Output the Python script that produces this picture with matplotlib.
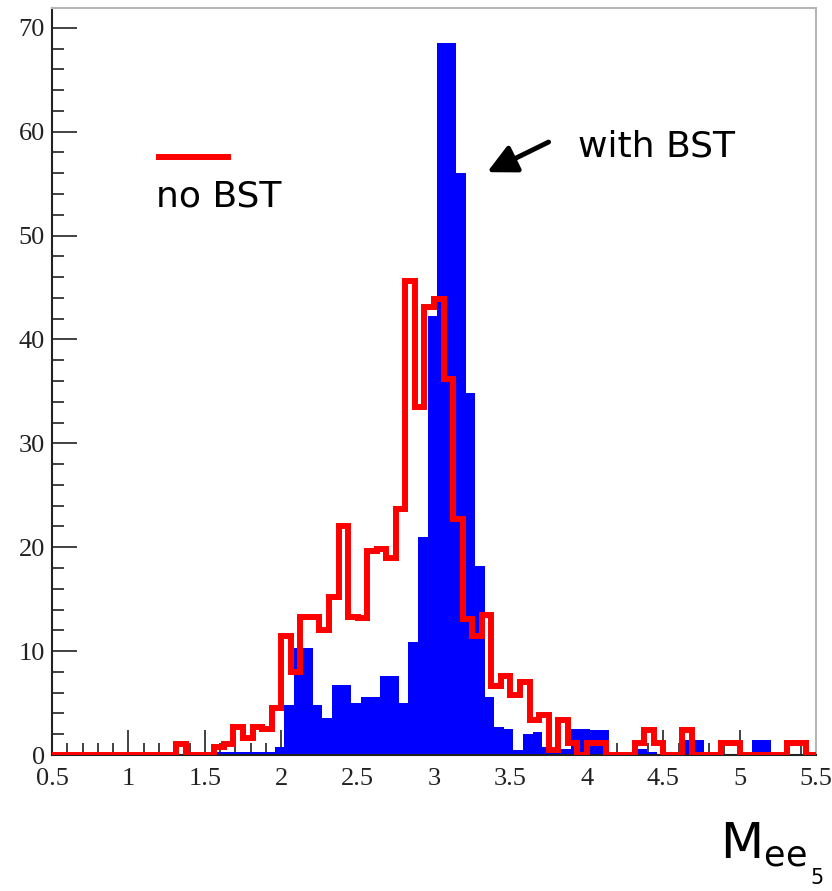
import numpy as np
import matplotlib
matplotlib.use("Agg")
import matplotlib.pyplot as plt
from matplotlib.ticker import MultipleLocator

# binning (80 bins of 0.0625), blue histogram sits slightly shifted in the picture
bin_w = 0.0625
n_bins = 80
red_lo = 0.5
blue_lo = 0.52

# no BST (red outline)
red_counts = [0, 0, 0, 0, 0, 0, 0, 0, 0, 0, 0, 0, 0,
              1.1, 0, 0, 0,
              0.8, 1.1, 2.7, 1.6, 2.7, 2.5, 4.5,
              11.5, 8.0, 13.3, 13.3, 12.0, 15.2, 22.0, 13.3, 13.2, 19.6,
              19.8, 19.0, 23.7, 45.6, 33.5, 43.1, 43.9, 36.2, 22.7, 13.1,
              11.5, 13.5, 6.6, 7.6, 5.8, 7.0, 3.4, 3.9, 0.5, 3.4,
              1.2, 0, 1.2, 1.2, 0, 0, 0, 1.2, 2.4, 1.2,
              0, 0, 2.4, 0, 0, 0, 1.2, 1.2, 0, 0,
              0, 0, 0, 1.2, 1.2, 0]

# with BST (blue filled)
blue_counts = [0, 0, 0, 0, 0, 0, 0, 0, 0, 0, 0, 0, 0, 0, 0, 0, 0,
               0.3, 0.3, 0.3, 0.3, 0.3, 0.3, 0.8,
               4.8, 10.3, 10.3, 4.8, 3.6, 6.7, 6.7, 5.0, 5.6, 5.6,
               7.6, 7.6, 5.0, 10.9, 21.0, 42.3, 68.5, 68.5, 56.0, 34.8,
               18.2, 5.6, 2.7, 2.5, 0.5, 2.0, 2.2, 0.8, 0.6, 0.6,
               2.5, 2.5, 2.4, 2.4, 0, 0, 0, 0.6, 0.3, 0,
               0, 0, 1.4, 1.4, 0, 0.3, 0, 0, 0, 1.4,
               1.4, 0, 0, 0, 0, 0]

red_edges = red_lo + bin_w * np.arange(n_bins + 1)
blue_edges = blue_lo + bin_w * np.arange(n_bins + 1)

fig = plt.figure(figsize=(8.32, 8.91), dpi=100)
ax = fig.add_axes([0.0625, 0.1526, 0.9183, 0.8384])

ax.stairs(blue_counts, blue_edges, fill=True, color="#0000ff", zorder=2)
ax.stairs(red_counts, red_edges, color="#ff0000", lw=4.3, zorder=3)

ax.set_xlim(0.5, 5.5)
ax.set_ylim(0, 71.9)

ax.xaxis.set_minor_locator(MultipleLocator(0.1))
ax.yaxis.set_major_locator(MultipleLocator(10))
ax.yaxis.set_minor_locator(MultipleLocator(2))
ax.set_xticks(np.arange(0.5, 5.51, 0.5))
ax.set_xticklabels(["0.5", "1", "1.5", "2", "2.5", "3", "3.5", "4", "4.5", "5", "5.5"])

ax.tick_params(which="both", direction="in", top=False, right=False,
               colors="#222222", width=1.2, zorder=5)
ax.tick_params(which="major", length=18)
ax.tick_params(which="minor", length=8.5)
ax.tick_params(axis="x", pad=9)
ax.tick_params(axis="y", pad=5)
for lab in ax.get_xticklabels() + ax.get_yticklabels():
    lab.set_fontfamily("Liberation Serif")
    lab.set_fontsize(19)
    lab.set_color("#222222")

ax.spines["left"].set_color("#222222")
ax.spines["bottom"].set_color("#222222")
ax.spines["left"].set_linewidth(1.5)
ax.spines["bottom"].set_linewidth(1.5)
ax.spines["top"].set_color("#b5b5b5")
ax.spines["right"].set_color("#b5b5b5")
ax.spines["top"].set_linewidth(1.5)
ax.spines["right"].set_linewidth(1.5)

# annotations
ax.plot([1.179, 1.669], [57.6, 57.6], color="#ff0000", lw=4.3, solid_capstyle="butt")
ax.text(1.179, 53.8, "no BST", fontsize=26, va="center", ha="left", color="black")
ax.text(3.943, 58.6, "with BST", fontsize=26, va="center", ha="left", color="black")
ax.annotate("", xy=(3.348, 56.1), xytext=(3.75, 59.0),
            arrowprops=dict(arrowstyle="-|>,head_length=0.7,head_width=0.35",
                            lw=3.5, color="black", mutation_scale=25,
                            shrinkA=0, shrinkB=0))

fig.text(0.865, 0.037, r"M$_{\mathrm{ee}}$", fontsize=36, va="baseline", ha="left")
fig.text(0.982, 0.003, "5", fontsize=15, va="bottom", ha="center")

fig.savefig("out.png", dpi=100)
